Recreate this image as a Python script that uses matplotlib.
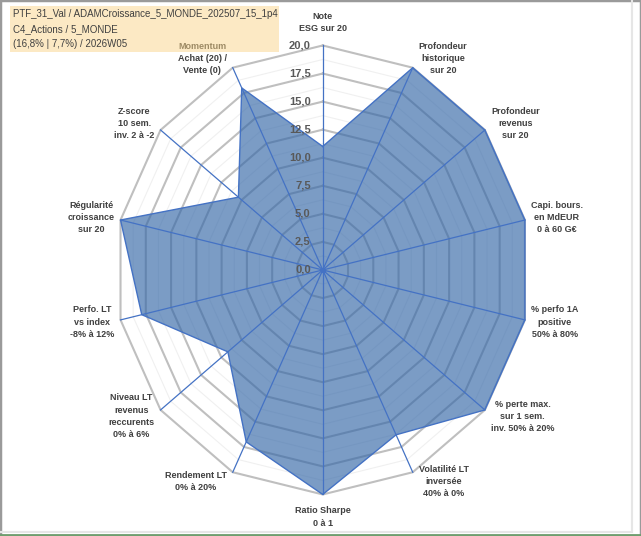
import numpy as np
import matplotlib.pyplot as plt
from matplotlib.patches import Rectangle

plt.rcParams['font.family'] = ['Liberation Sans', 'DejaVu Sans']

# Données du radar (score sur 20)
criteres = [
    "Note\nESG sur 20",
    "Profondeur\nhistorique\nsur 20",
    "Profondeur\nrevenus\nsur 20",
    "Capi. bours.\nen MdEUR\n0 à 60 G€",
    "% perfo 1A\npositive\n50% à 80%",
    "% perte max.\nsur 1 sem.\ninv. 50% à 20%",
    "Volatilité LT\ninversée\n40% à 0%",
    "Ratio Sharpe\n0 à 1",
    "Rendement LT\n0% à 20%",
    "Niveau LT\nrevenus\nreccurents\n0% à 6%",
    "Perfo. LT\nvs index\n-8% à 12%",
    "Régularité\ncroissance\nsur 20",
    "Z-score\n10 sem.\ninv. 2 à -2",
    "Momentum\nAchat (20) /\nVente (0)",
]
scores = [11.0, 20.0, 20.0, 20.0, 20.0, 20.0, 16.3, 20.0, 17.0, 11.7, 17.9, 20.0, 10.4, 18.0]
graduations = [0.0, 2.5, 5.0, 7.5, 10.0, 12.5, 15.0, 17.5, 20.0]
titre = "PTF_31_Val / ADAMCroissance_5_MONDE_202507_15_1p4\nC4_Actions / 5_MONDE\n(16,8% | 7,7%) / 2026W05"

n = len(criteres)
angles = np.arange(n) * 2 * np.pi / n
sx, sy = np.sin(angles), np.cos(angles)

fig = plt.figure(figsize=(6.41, 5.36), dpi=100)
ax = fig.add_axes([0, 0, 1, 1])
ax.set_xlim(-31.12, 30.69)
ax.set_ylim(-23.70, 24.05)
ax.axis('off')

# grille polygonale (mineure + majeure)
vmax = graduations[-1]
pas = graduations[1] - graduations[0]
for v in np.arange(pas / 2, vmax, pas):
    ax.plot(np.append(v * sx, v * sx[0]), np.append(v * sy, v * sy[0]),
            color='#F0F0F0', lw=0.8, zorder=1)
for v in graduations[1:]:
    ax.plot(np.append(v * sx, v * sx[0]), np.append(v * sy, v * sy[0]),
            color='#BFBFBF', lw=1.5, zorder=1)

# rayons
for a, b in zip(sx, sy):
    ax.plot([0, vmax * a], [0, vmax * b], color='#4472C4', lw=0.9, zorder=4)

# série
s = np.array(scores)
px, py = s * sx, s * sy
ax.fill(px, py, color='#3467A7', alpha=0.65, lw=0, zorder=2)
ax.plot(np.append(px, px[0]), np.append(py, py[0]), color='#4472C4', lw=1.0, zorder=3)
ax.plot(0, 0, 'o', color='#4472C4', ms=3, zorder=5)

# graduations
for v in graduations:
    ax.annotate(f"{v:.1f}".replace('.', ','), xy=(0, v), xytext=(-12, 0),
                textcoords='offset pixels', ha='right', va='center',
                fontsize=8, fontweight='bold', color='#595959', zorder=6)

# étiquettes des axes
for lab, a, b in zip(criteres, sx, sy):
    if abs(a) < 0.1:
        ha = 'center'
        va = 'bottom' if b > 0 else 'top'
        off = (0, 12) if b > 0 else (0, -12)
    else:
        ha = 'left' if a > 0 else 'right'
        va = 'center'
        off = (6 * np.sign(a), 10 * b)
    ax.annotate(lab, xy=(vmax * a, vmax * b), xytext=off, textcoords='offset pixels',
                ha=ha, va=va, multialignment='center', fontsize=6.5,
                fontweight='bold', color='#404040', linespacing=1.45, zorder=6)

# cartouche titre (posé par-dessus, semi-transparent comme dans Excel)
fig.patches.append(Rectangle((10 / 641, 1 - 52 / 536), 269 / 641, 46 / 536,
                             transform=fig.transFigure, facecolor='#FBD58A',
                             edgecolor='none', alpha=0.5, zorder=8))
fig.text(13 / 641, 1 - 9 / 536, titre, ha='left', va='top', fontsize=7.0, color='#404040',
         linespacing=1.6, zorder=10)

# cadre
fig.patches.append(Rectangle((0, 0), 1, 1, transform=fig.transFigure, fill=False,
                             edgecolor='#9A9A9A', lw=2.5))
fig.lines.append(plt.Line2D([632 / 641, 632 / 641], [4 / 536, 1], transform=fig.transFigure,
                            color='#E6E6E6', lw=1.5))
fig.lines.append(plt.Line2D([0, 632 / 641], [4 / 536, 4 / 536], transform=fig.transFigure,
                            color='#E6E6E6', lw=1.5))
fig.lines.append(plt.Line2D([0, 1], [1 / 536, 1 / 536], transform=fig.transFigure,
                            color='#6E9E6E', lw=2))

plt.savefig('out.png', dpi=100)
